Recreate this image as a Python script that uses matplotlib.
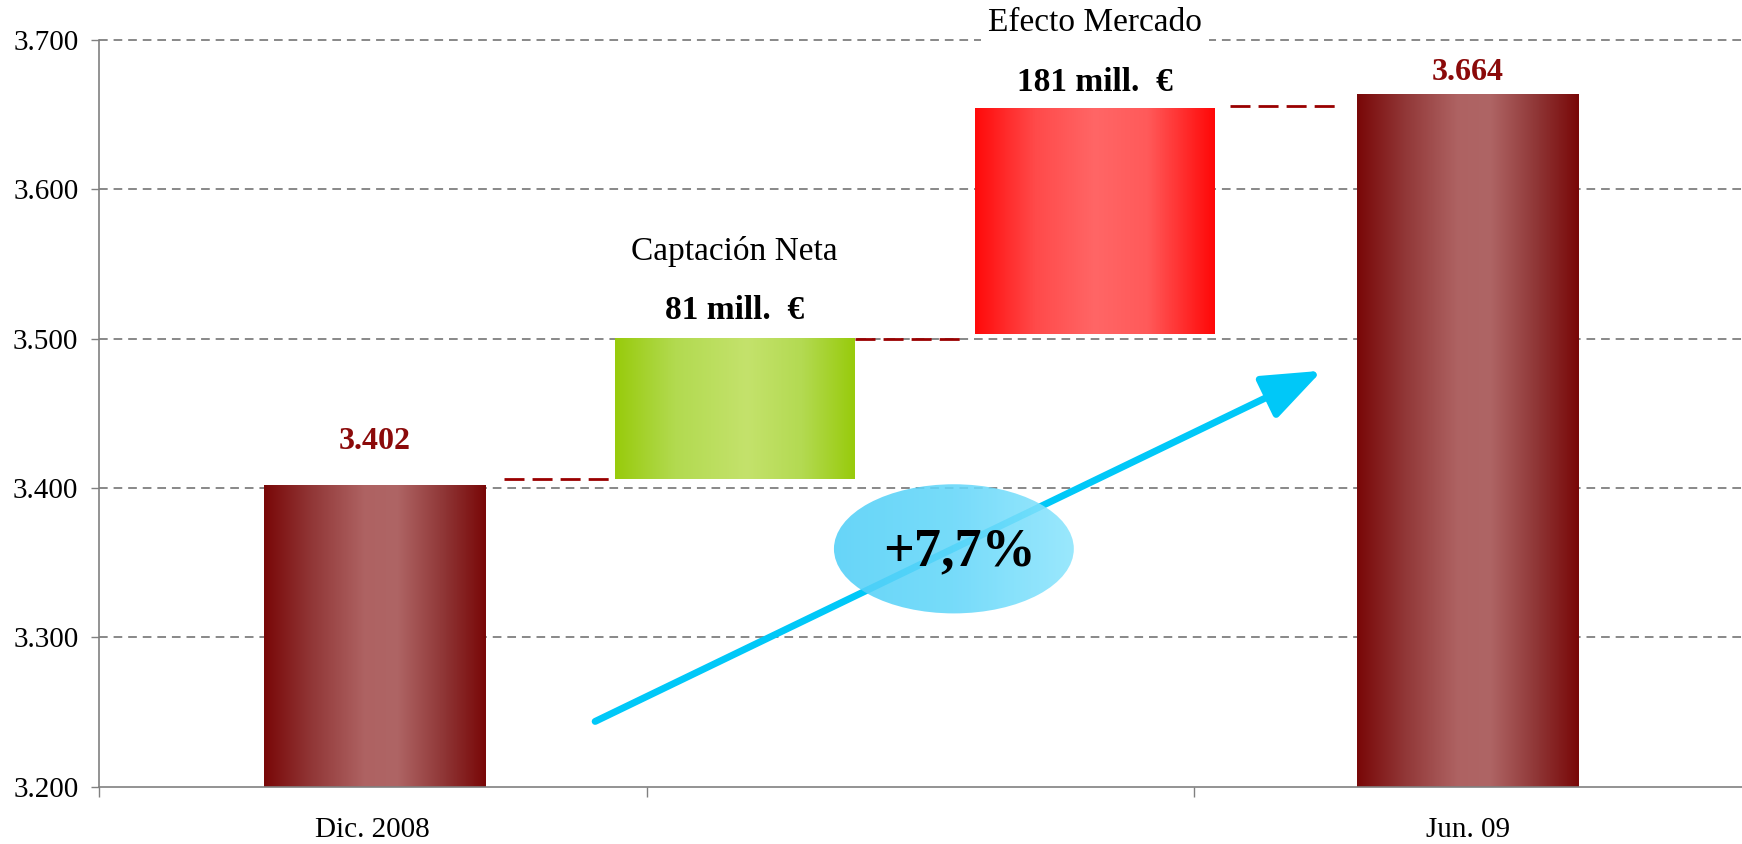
import numpy as np
import matplotlib
matplotlib.use("Agg")
import matplotlib.pyplot as plt
from matplotlib.colors import LinearSegmentedColormap
from matplotlib.patches import Ellipse, FancyArrowPatch

# ---------------- data ----------------
categories = ['Dic. 2008', '', 'Jun. 09']
total_labels = ['3.402', '3.664']
total_values = [3402, 3664]
flow_names = ['Captación Neta', 'Efecto Mercado']
flow_amount_labels = ['81 mill.  €', '181 mill.  €']
flow_bottoms = [3406, 3503]
flow_tops = [3500, 3654]
connector_levels = [3406, 3500, 3656]
growth_label = '+7,7%'
y_ticks = [3200, 3300, 3400, 3500, 3600, 3700]
y_tick_labels = ['3.200', '3.300', '3.400', '3.500', '3.600', '3.700']

# ---------------- layout ----------------
FONT = 'Liberation Serif'
DARKRED = '#8B0A0A'
total_pos = [0.003, 2.0]
total_width = 0.405
flow_pos = [0.66, 1.318]
flow_width = 0.437
connector_spans = [(0.24, 0.432), (0.88, 1.072), (1.565, 1.76)]

fig = plt.figure(figsize=(17.42, 8.44), dpi=100)
ax = fig.add_axes([0.0568, 0.0681, 0.9432, 0.8845])
ax.set_xlim(-0.5, 2.5)
ax.set_ylim(3200, 3700)


def grad_fill(patch, stops, colors):
    x0, y0 = patch.get_x(), patch.get_y()
    w, h = patch.get_width(), patch.get_height()
    cmap = LinearSegmentedColormap.from_list('g', list(zip(stops, colors)))
    img = np.linspace(0, 1, 400)[None, :]
    ax.imshow(img, cmap=cmap, extent=[x0, x0 + w, y0, y0 + h], aspect='auto',
              interpolation='bilinear', zorder=patch.get_zorder() + 0.1)


# grid
for yv in y_ticks[1:]:
    ax.axhline(yv, color='#7A7A7A', lw=1.25, dashes=(5.0, 3.4), zorder=1, clip_on=False)

# total bars
base = ax.get_ylim()[0]
tot_bars = ax.bar(total_pos, [v - base for v in total_values], width=total_width,
                  bottom=base, color='#8B2020', zorder=3)
for p in tot_bars:
    grad_fill(p, [0, 0.22, 0.45, 0.6, 0.82, 1],
              ['#790808', '#923838', '#AE6262', '#AF6565', '#8E3434', '#790808'])

# flow bars
flow_heights = [t - b for t, b in zip(flow_tops, flow_bottoms)]
fl_bars = ax.bar(flow_pos, flow_heights, width=flow_width, bottom=flow_bottoms,
                 color=['#B0D840', '#FF4040'], zorder=3)
grad_fill(fl_bars[0], [0, 0.25, 0.55, 0.78, 1],
          ['#98CB0C', '#B2DA50', '#C4E26C', '#B3DA52', '#98CB0C'])
grad_fill(fl_bars[1], [0, 0.25, 0.5, 0.72, 1],
          ['#FF0A0A', '#FF4A4A', '#FF6666', '#FF5A5A', '#FF0808'])

# connectors
for lvl, (xa, xb) in zip(connector_levels, connector_spans):
    ax.plot([xa, xb], [lvl, lvl], color='#990000', lw=2.0, dashes=(7.2, 2.9),
            solid_capstyle='butt', dash_capstyle='butt', zorder=4)

# arrow
arrow = FancyArrowPatch((0.406, 3243.6), (1.733, 3478.5),
                        arrowstyle='-|>,head_length=2.6,head_width=1.0',
                        mutation_scale=14, color='#00C8F8', lw=5.0, zorder=5,
                        shrinkA=0, shrinkB=0)
ax.add_patch(arrow)

# ellipse with gradient
ell = Ellipse((1.061, 3359.2), 0.438, 86.5, facecolor='none', edgecolor='none', zorder=6)
ax.add_patch(ell)
ecmap = LinearSegmentedColormap.from_list('e', ['#52D0F8', '#64D7FA', '#8CE5FD'])
eimg = ax.imshow(np.linspace(0, 1, 300)[None, :], cmap=ecmap,
                 extent=[1.061 - 0.22, 1.061 + 0.22, 3359.2 - 44, 3359.2 + 44],
                 aspect='auto', interpolation='bilinear', alpha=0.88, zorder=6)
eimg.set_clip_path(ell)
ax.text(1.072, 3357, growth_label, ha='center', va='center', fontsize=39,
        fontweight='bold', family=FONT, color='black', zorder=8)

# labels of totals
total_label_y = [3431, 3678]
for xp, lab, ly in zip(total_pos, total_labels, total_label_y):
    ax.text(xp, ly, lab, ha='center', va='center', fontsize=23, fontweight='bold',
            family=FONT, color=DARKRED, zorder=8)

# flow labels
name_y = [3558.6, 3711.4]
amt_y = [3519, 3671.8]
for i, xp in enumerate(flow_pos):
    t = ax.text(xp, name_y[i], flow_names[i], ha='center', va='center', fontsize=24,
                family=FONT, color='black', zorder=8, clip_on=False)
    if i == 1:
        t.set_bbox(dict(facecolor='white', edgecolor='none', pad=5))
    ax.text(xp, amt_y[i], flow_amount_labels[i], ha='center', va='center', fontsize=24,
            fontweight='bold', family=FONT, color='black', zorder=8)

ax.set_xlim(-0.5, 2.5)
ax.set_ylim(3200, 3700)

# axes styling
for s in ['top', 'right']:
    ax.spines[s].set_visible(False)
for s in ['left', 'bottom']:
    ax.spines[s].set_color('#808080')
    ax.spines[s].set_linewidth(1.2)
    ax.spines[s].set_zorder(7)

ax.set_yticks(y_ticks)
ax.set_yticklabels(y_tick_labels, fontsize=21, family=FONT)
ax.tick_params(axis='y', direction='out', length=5.8, width=1.0, color='#808080', pad=9)

ax.set_xticks([0, 1, 2])
ax.set_xticklabels(categories, fontsize=21, family=FONT)
ax.set_xticks([-0.5, 0.5, 1.5], minor=True)
ax.tick_params(axis='x', which='major', length=0, pad=22)
ax.tick_params(axis='x', which='minor', direction='out', length=7.5, width=1.0, color='#808080')

fig.savefig('out.png', dpi=100, facecolor='white')
